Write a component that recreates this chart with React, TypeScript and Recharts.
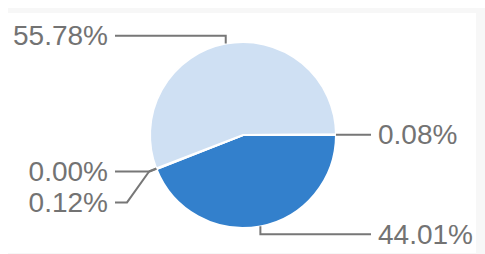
import { PieChart, Pie, Cell } from "recharts";

// slices in drawing order, clockwise from 3 o'clock
const sliceValues = [44.01, 0.12, 0.0, 55.78, 0.08];
const sliceColors = ["#3380cc", "#3380cc", "#cfe0f3", "#cfe0f3", "#cfe0f3"];

const W = 485;
const H = 254;
const CX = 243;
const CY = 135;
const R = 93;
const START = 0;
const END = -360;
const RAD = Math.PI / 180;
const LABEL_GAP = 31;

// where each label sits vertically (pushed apart when they collide)
function layoutLabels(values: number[]) {
  const total = values.reduce((a, b) => a + b, 0);
  let acc = 0;
  const mids = values.map((v) => {
    const m = START + ((acc + v / 2) / total) * (END - START);
    acc += v;
    return m;
  });
  const ys = mids.map((m) => CY + (R + 8) * Math.sin(-m * RAD));
  const sides = mids.map((m) => (Math.cos(-m * RAD) >= 0 ? 1 : -1));
  for (const side of [1, -1]) {
    const idx = ys.map((_, i) => i).filter((i) => sides[i] === side).sort((a, b) => ys[a] - ys[b]);
    for (let k = 1; k < idx.length; k++) {
      const prev = ys[idx[k - 1]];
      if (ys[idx[k]] < prev + LABEL_GAP) ys[idx[k]] = prev + LABEL_GAP;
    }
  }
  return { mids, ys, sides };
}

const layout = layoutLabels(sliceValues);

function SliceLabel(props: any) {
  const { cx, cy, outerRadius, midAngle, index, value } = props;
  const cos = Math.cos(-midAngle * RAD);
  const sin = Math.sin(-midAngle * RAD);
  const px = cx + outerRadius * cos;
  const py = cy + outerRadius * sin;
  const ex = cx + (outerRadius + 8) * cos;
  const ey = cy + (outerRadius + 8) * sin;
  const side = layout.sides[index];
  const ly = layout.ys[index];
  const lineX = cx + side * (outerRadius + 35);
  let d: string;
  if (Math.abs(sin) > 0.9) {
    d = `M${px},${py}L${px},${ly}L${lineX},${ly}`;
  } else if (Math.abs(ly - ey) > 1) {
    d = `M${px},${py}L${ex},${ey}L${lineX - side * 12},${ly}L${lineX},${ly}`;
  } else {
    d = `M${px},${py}L${ex},${ly}L${lineX},${ly}`;
  }
  return (
    <g>
      <path d={d} stroke="#777" strokeWidth={2} fill="none" />
      <text
        x={lineX + side * 7}
        y={ly}
        textAnchor={side > 0 ? "start" : "end"}
        dominantBaseline="central"
        fill="#737373"
        fontSize={28}
        fontFamily="'Liberation Sans', Arial, sans-serif"
      >
        {`${Number(value).toFixed(2)}%`}
      </text>
    </g>
  );
}

export default function App() {
  const data = sliceValues.map((v, i) => ({ name: `s${i}`, value: v }));
  return (
    <div style={{ position: "fixed", left: 0, top: 0, width: W, height: H, background: "#fff" }}>
      <div style={{ position: "absolute", left: 8, top: 8, width: W - 8, height: H - 8, background: "#f7f7f7" }} />
      <div style={{ position: "absolute", left: 8, top: 13, width: 468, height: 240, background: "#fff" }} />
      <div style={{ position: "absolute", left: 0, top: 0 }}>
        <PieChart width={W} height={H} margin={{ top: 0, right: 0, bottom: 0, left: 0 }}>
          <Pie
            data={data}
            dataKey="value"
            cx={CX}
            cy={CY}
            outerRadius={R}
            startAngle={START}
            endAngle={END}
            stroke="#fff"
            strokeWidth={2}
            label={SliceLabel}
            labelLine={false}
            isAnimationActive={false}
          >
            {data.map((d, i) => (
              <Cell key={`cell-${i}`} fill={sliceColors[i]} />
            ))}
          </Pie>
        </PieChart>
      </div>
    </div>
  );
}
